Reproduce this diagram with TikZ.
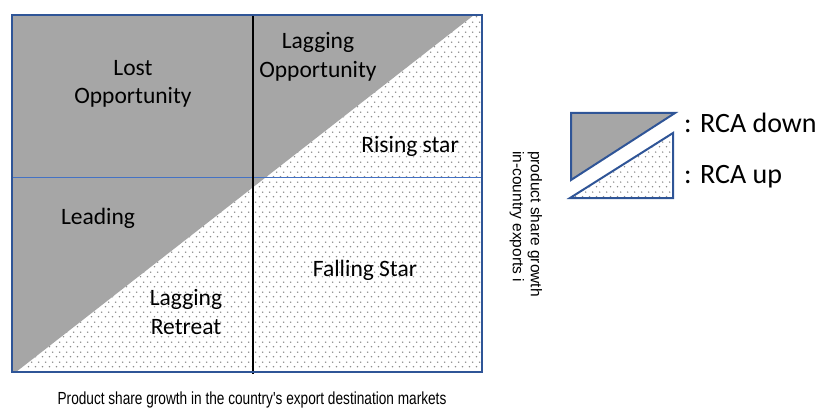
\documentclass[tikz,border=0pt]{standalone}
\usepackage{fontspec}
\usetikzlibrary{patterns}
\newfontfamily\quadfont{Carlito}
\newfontfamily\axisfont{Liberation Sans}
\newfontfamily\axisnarrowfont[FakeStretch=0.78]{Liberation Sans}
\definecolor{frameblue}{RGB}{47,85,151}
\definecolor{lineblue}{RGB}{68,114,196}
\definecolor{downgray}{RGB}{166,166,166}
\pgfdeclarepatternformonly{rcadots}{\pgfpointorigin}{\pgfqpoint{6.6pt}{10pt}}{\pgfqpoint{6.6pt}{10pt}}{
  \pgfpathcircle{\pgfqpoint{1.65pt}{2.5pt}}{0.9pt}
  \pgfpathcircle{\pgfqpoint{4.95pt}{7.5pt}}{0.9pt}
  \pgfusepath{fill}}
\tikzset{
  quadlabel/.style={font=\quadfont\fontsize{23.5}{28.5}\selectfont, align=center, inner sep=0pt},
  legendlabel/.style={font=\quadfont\fontsize{28}{30}\selectfont, anchor=base west, inner sep=0pt},
  upfill/.style={pattern=rcadots, pattern color=black!45},
  downfill/.style={fill=downgray},
}
\begin{document}
\begin{tikzpicture}[x=1pt,y=-1pt]
  \useasboundingbox (0,0) rectangle (822,409);
  % quadrant chart
  \fill[downfill] (12,15) -- (474,15) -- (16,372) -- (12,372) -- cycle;
  \fill[upfill] (474,15) -- (482,15) -- (482,372) -- (16,372) -- cycle;
  \draw[lineblue, line width=1pt] (12,177) -- (482,177);
  \draw[black, line width=1.4pt] (253,15) -- (253,374);
  \draw[frameblue, line width=2.5pt] (12,15) rectangle (482,372);
  \node[quadlabel] (lost) at (133,84) {Lost\\Opportunity};
  \node[quadlabel] (lagopp) at (318,57) {Lagging\\Opportunity};
  \node[quadlabel] (rising) at (410,146) {Rising star};
  \node[quadlabel] (leading) at (98,218) {Leading};
  \node[quadlabel] (falling) at (365,270) {Falling Star};
  \node[quadlabel] (lagret) at (186,312) {Lagging\\Retreat};
  % axis labels
  \node[font=\axisfont\fontsize{15.5}{18}\selectfont, align=left, rotate=-90, inner sep=0pt]
    (yaxis) at (526,224) {product share growth\\in-country exports i};
  \node[font=\axisnarrowfont\fontsize{17.5}{18}\selectfont, inner sep=0pt]
    (xaxis) at (252,400) {Product share growth in the country's export destination markets};
  % legend
  \filldraw[downfill, draw=frameblue, line width=2pt] (571,113) -- (675,113) -- (571,180) -- cycle;
  \filldraw[upfill, draw=frameblue, line width=2pt] (673,133) -- (673,198) -- (570,198) -- cycle;
  \node[legendlabel] (down) at (684,133) {: RCA down};
  \node[legendlabel] (up) at (684,183) {: RCA up};
\end{tikzpicture}
\end{document}
